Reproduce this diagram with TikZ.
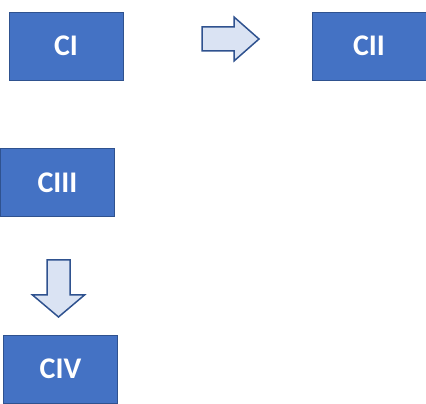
\documentclass[tikz,border=0pt]{standalone}
\usepackage{fontspec}
\setmainfont{Carlito}
\usetikzlibrary{backgrounds}
\definecolor{boxblue}{HTML}{4472C4}
\definecolor{edgeblue}{HTML}{2F528F}
\definecolor{paleblue}{HTML}{DAE3F3}
\pgfdeclarelayer{edgelayer}
\pgfdeclarelayer{nodelayer}
\pgfsetlayers{edgelayer,nodelayer,main}
\tikzset{font=\bfseries\fontsize{30}{30}\selectfont}
\tikzstyle{none}=[inner sep=0pt]
\tikzstyle{cbox}=[rectangle,fill=boxblue,draw=edgeblue,line width=0.8pt,text=white,inner sep=0pt,minimum width=114pt,minimum height=68pt]
\tikzstyle{blockarrow}=[fill=paleblue,draw=edgeblue,line width=1.5pt,line join=miter]

\begin{document}
\begin{tikzpicture}[x=1pt,y=1pt]
	\useasboundingbox (0,0) rectangle (426,404);
	\begin{pgfonlayer}{nodelayer}
		\node [style=cbox] (CI) at (66, 358) {CI};
		\node [style=cbox] (CII) at (369, 358) {CII};
		\node [style=cbox] (CIII) at (57.5, 221.5) {CIII};
		\node [style=cbox] (CIV) at (60.5, 35) {CIV};
		\coordinate (r) at (202, 365);
		\coordinate (d) at (58.5, 144);
	\end{pgfonlayer}
	\begin{pgfonlayer}{edgelayer}
		% right arrow
		\draw [style=blockarrow] ([yshift=12pt]r) -- ++(32,0) -- ++(0,10) -- ++(25,-22) -- ++(-25,-22) -- ++(0,10) -- ++(-32,0) -- cycle;
		% down arrow
		\draw [style=blockarrow] ([xshift=-11.5pt]d) -- ++(0,-35) -- ++(-14.5,0) -- ++(26,-22) -- ++(26,22) -- ++(-14.5,0) -- ++(0,35) -- cycle;
	\end{pgfonlayer}
\end{tikzpicture}
\end{document}
